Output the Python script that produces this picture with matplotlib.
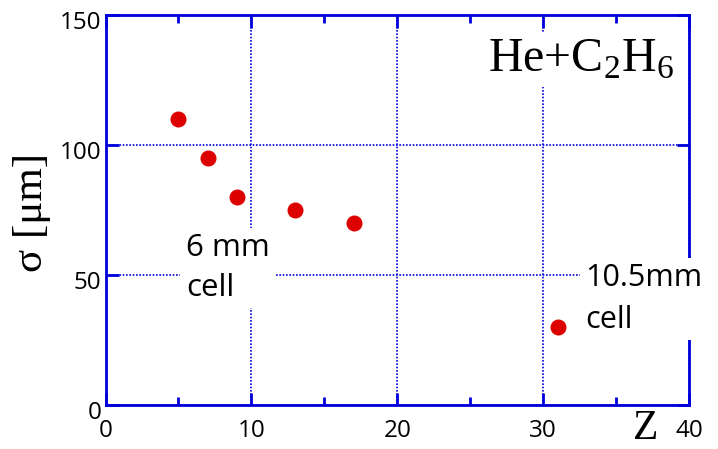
import matplotlib
matplotlib.use('Agg')
import matplotlib.pyplot as plt
import matplotlib.transforms as mtransforms

# data
z = [5, 7, 9, 13, 17, 31]
sigma = [110, 95, 80, 75, 70, 30]
xticks = [0, 10, 20, 30, 40]
yticks = [0, 50, 100, 150]

blue = '#0000dd'
red = '#dd0000'
sans = 'Open Sans'
serif = 'Liberation Serif'

plt.rcParams['mathtext.fontset'] = 'custom'
plt.rcParams['mathtext.rm'] = serif

fig = plt.figure(figsize=(7.18, 4.49), dpi=100)
ax = fig.add_axes([0.147, 0.098, 0.8126, 0.8686])

ax.plot(z, sigma, 'o', color=red, ms=10.5, zorder=4, clip_on=False)

ax.set_xlim(0, 40)
ax.set_ylim(0, 150)
ax.set_xticks(xticks)
ax.set_yticks(yticks)
ax.set_xticks([5, 15, 25, 35], minor=True)

ax.grid(True, color=blue, linestyle=(0, (1, 1)), linewidth=1.2)
for s in ax.spines.values():
    s.set_color(blue)
    s.set_linewidth(2)
ax.tick_params(which='both', direction='in', top=True, right=True,
               color=blue, width=2, labelsize=17.5, labelcolor='black')
ax.tick_params(which='major', length=9)
ax.tick_params(which='minor', length=6)
ax.tick_params(axis='x', pad=10)
ax.tick_params(axis='y', pad=3)
for lab in ax.get_xticklabels() + ax.get_yticklabels():
    lab.set_fontfamily(sans)
off = mtransforms.ScaledTranslation(0, -5 / 100, fig.dpi_scale_trans)
for lab in ax.get_yticklabels():
    lab.set_transform(lab.get_transform() + off)

# axis titles
ax.text(-0.126, 0.495, 'σ [μm]', transform=ax.transAxes, rotation=90,
        ha='center', va='center', fontsize=31, fontfamily=serif)
ax.text(0.925, -0.1095, 'Z', transform=ax.transAxes, ha='center', va='bottom',
        fontsize=30, fontfamily=serif)

# gas label
ax.text(0.975, 0.855, r'He+C$_\mathrm{2}$H$_\mathrm{6}$', transform=ax.transAxes,
        ha='right', va='baseline', fontsize=34.5, fontfamily=serif, zorder=10,
        bbox=dict(facecolor='white', edgecolor='none', pad=4))

# cell annotations
ax.text(5.5, 66, '6 mm\ncell', ha='left', va='top', fontsize=22.5,
        fontfamily=sans, linespacing=1.4, zorder=10, clip_on=False,
        bbox=dict(facecolor='white', edgecolor='none', pad=4))
ax.text(32.9, 54.5, '10.5mm\ncell', ha='left', va='top', fontsize=22,
        fontfamily=sans, linespacing=1.5, zorder=10, clip_on=False,
        bbox=dict(facecolor='white', edgecolor='none', pad=4))

fig.savefig('out.png', dpi=100)
